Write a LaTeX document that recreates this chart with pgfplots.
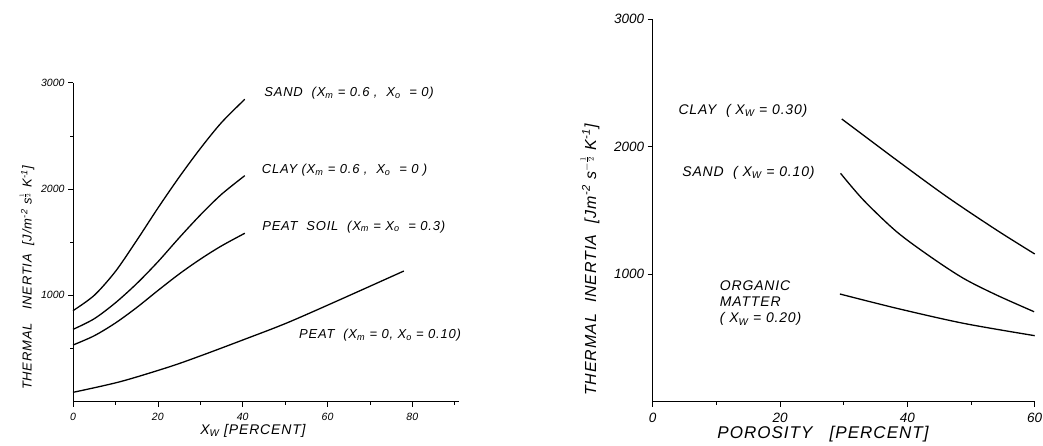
\documentclass[border=0pt]{standalone}
\usepackage{fontspec}
\setmainfont{Liberation Sans}
\newfontfamily\spaced[LetterSpace=6]{Liberation Sans}
\usepackage{pgfplots}
\pgfplotsset{compat=1.18}

\pgfplotsset{every axis/.append style={
    scale only axis,
    axis lines*=left,
    axis line style={-, line width=0.8pt},
    tick style={black, line width=0.6pt},
    major tick length=5pt, minor tick length=3pt,
    tick align=outside,
    /pgf/number format/assume math mode=true,
    /pgf/number format/1000 sep={},
    xticklabel style={yshift=-3pt},
    clip=false,
  },
  curve/.style={black, line width=1.3pt, smooth, no marks},
}

\begin{document}
\begin{tikzpicture}[font=\itshape]
\useasboundingbox (0,0) rectangle (1043pt,445pt);

% left panel: thermal inertia vs water content
\begin{axis}[
    at={(73pt,43.3pt)}, anchor=south west,
    width=386pt, height=319pt,
    xmin=0, xmax=91, ymin=0, ymax=3000,
    xtick={0,20,40,60,80}, minor xtick={10,30,50,70,90},
    ytick={1000,2000,3000}, minor ytick={500,1500,2500},
    tick label style={font=\itshape\fontsize{10.5}{12}\selectfont},
  ]
  \addplot[curve] coordinates {
    (0,856)(5,1000)(10,1225)(15,1515)(20,1820)(25,2110)(30,2380)(35,2625)(40.5,2844)};
  \addplot[curve] coordinates {
    (0,680)(5,780)(10,930)(15,1110)(20,1315)(25,1540)(30,1755)(35,1950)(40.5,2126)};
  \addplot[curve] coordinates {
    (0,533)(5,620)(10,740)(15,885)(20,1045)(25,1200)(30,1340)(35,1465)(40.5,1584)};
  \addplot[curve] coordinates {
    (0,88)(11.1,188)(22.8,329)(30.6,439)(40,580)(50.2,737)(61.9,941)(78,1229)};
  \begin{scope}[font=\spaced\itshape\fontsize{13}{15}\selectfont]
  \node[anchor=west] at (axis cs:44.3,2900) {SAND\ \ (X\textsubscript{m} = 0.6 ,\ \ X\textsubscript{o}\ \ = 0)};
  \node[anchor=west] at (axis cs:43.7,2179) {CLAY (X\textsubscript{m} = 0.6 ,\ \ X\textsubscript{o}\ \ = 0 )};
  \node[anchor=west] at (axis cs:43.8,1646) {PEAT\ \ SOIL\ \ (X\textsubscript{m} = X\textsubscript{o}\ \ = 0.3)};
  \node[anchor=west] at (axis cs:52.5,627) {PEAT\ \ (X\textsubscript{m} = 0, X\textsubscript{o} = 0.10)};
  \end{scope}
\end{axis}

% right panel: thermal inertia vs porosity
\begin{axis}[
    at={(652.7pt,43.3pt)}, anchor=south west,
    width=382pt, height=382.4pt,
    xmin=0, xmax=60, ymin=0, ymax=3000,
    xtick={0,20,40,60}, minor xtick={10,30,50},
    ytick={1000,2000,3000},
    tick label style={font=\itshape\fontsize{13.5}{15}\selectfont},
  ]
  \addplot[curve] coordinates {
    (29.7,2218)(38.3,1896)(46.2,1608)(54,1347)(60,1159)};
  \addplot[curve] coordinates {
    (29.5,1792)(33.1,1582)(38.3,1334)(43.6,1138)(48.8,968)(54,837)(59.9,706)};
  \addplot[curve] coordinates {
    (29.4,845)(38.3,733)(48.8,615)(60,518)};
  \begin{scope}[font=\spaced\itshape\fontsize{14}{16}\selectfont]
  \node[anchor=west] at (axis cs:3.5,2285) {CLAY\ \ ( X\textsubscript{W} = 0.30)};
  \node[anchor=west] at (axis cs:4.1,1794) {SAND\ \ ( X\textsubscript{W} = 0.10)};
  \node[anchor=west, align=left] at (axis cs:10,770) {ORGANIC\\MATTER\\( X\textsubscript{W} = 0.20)};
  \end{scope}
\end{axis}

% axis titles
\node[rotate=90, font=\spaced\itshape\fontsize{13}{15}\selectfont] at (27pt,167pt)
  {THERMAL\ \ \ INERTIA\ \ [J/m\textsuperscript{-2} s$^{\frac{1}{2}}$ K\textsuperscript{-1}]};
\node[font=\spaced\itshape\fontsize{14}{16}\selectfont] at (253pt,14pt) {X\textsubscript{W} [PERCENT]};
\node[rotate=90, font=\spaced\itshape\fontsize{16}{18}\selectfont] at (590pt,185pt)
  {THERMAL\ \ INERTIA\ \ [Jm\textsuperscript{-2} s$^{-\frac{1}{2}}$ K\textsuperscript{-1}]};
\node[font=\spaced\itshape\fontsize{17}{19}\selectfont] at (823pt,11pt) {POROSITY\ \ \ [PERCENT]};
\end{tikzpicture}
\end{document}
